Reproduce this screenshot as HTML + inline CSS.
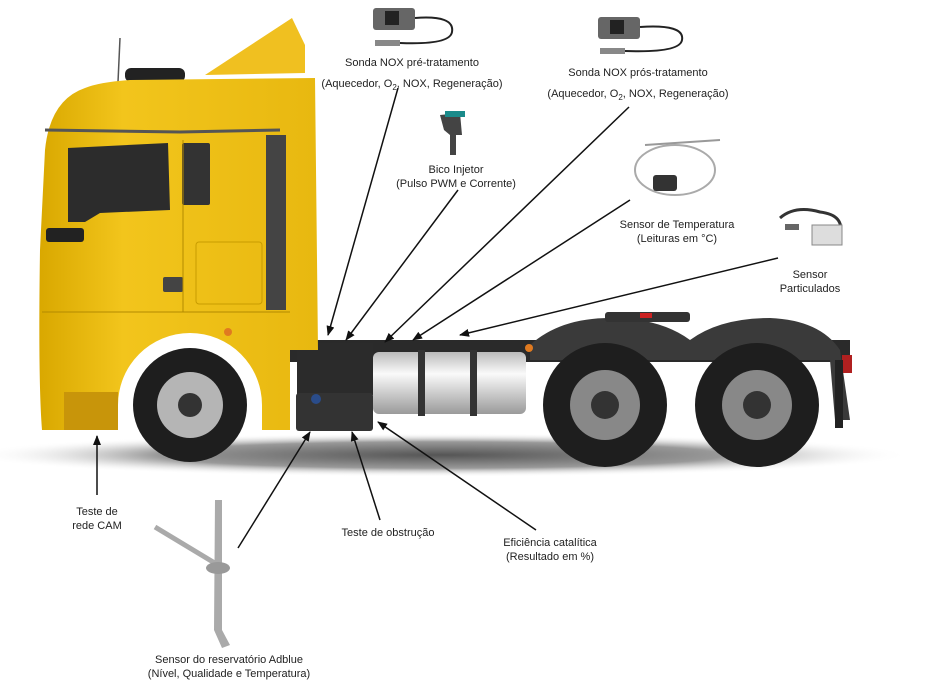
<!DOCTYPE html>
<html><head><meta charset="utf-8"><style>
html,body{margin:0;padding:0;background:#fff;}
svg{display:block;}
text{font-family:"Liberation Sans",Arial,sans-serif;font-size:11px;fill:#222;text-anchor:middle;}
</style></head><body>
<svg width="944" height="684" viewBox="0 0 944 684" xmlns="http://www.w3.org/2000/svg">
<defs>
<marker id="ah" markerWidth="10" markerHeight="8" refX="9" refY="4" orient="auto" markerUnits="userSpaceOnUse">
<path d="M0,0 L10,4 L0,8 Z" fill="#111"/></marker>
<radialGradient id="sh" cx="50%" cy="50%" r="50%"><stop offset="0" stop-color="#555"/><stop offset="0.6" stop-color="#999"/><stop offset="1" stop-color="#fff" stop-opacity="0"/></radialGradient>
<linearGradient id="yl" x1="0" y1="0" x2="1" y2="0"><stop offset="0" stop-color="#d9a800"/><stop offset="0.3" stop-color="#f2c51c"/><stop offset="1" stop-color="#e8b810"/></linearGradient>
<linearGradient id="sv" x1="0" y1="0" x2="0" y2="1"><stop offset="0" stop-color="#bbb"/><stop offset="0.35" stop-color="#fafafa"/><stop offset="1" stop-color="#9a9a9a"/></linearGradient>
</defs>
<ellipse cx="440" cy="455" rx="470" ry="22" fill="url(#sh)"/>
<rect x="285" y="340" width="565" height="22" fill="#2a2a2a"/>
<path d="M530,345 Q560,318 610,318 Q660,318 690,340 Q720,318 770,318 Q820,320 840,350 L850,420 L835,420 L830,360 L530,360 Z" fill="#3a3a3a"/>
<rect x="605" y="312" width="85" height="10" rx="3" fill="#333"/>
<rect x="640" y="313" width="12" height="5" fill="#c22"/>
<rect x="842" y="355" width="10" height="18" fill="#b02020"/>
<rect x="835" y="360" width="8" height="68" fill="#222"/>
<circle cx="605" cy="405" r="62" fill="#1e1e1e"/>
<circle cx="605" cy="405" r="35" fill="#888"/>
<circle cx="605" cy="405" r="14" fill="#333"/>
<circle cx="757" cy="405" r="62" fill="#1e1e1e"/>
<circle cx="757" cy="405" r="35" fill="#888"/>
<circle cx="757" cy="405" r="14" fill="#333"/>
<rect x="297" y="343" width="76" height="52" fill="#2b2b2b"/>
<rect x="296" y="393" width="77" height="38" rx="3" fill="#333"/>
<circle cx="316" cy="399" r="5" fill="#2a4c8a"/>
<rect x="373" y="352" width="153" height="62" rx="6" fill="url(#sv)"/>
<rect x="418" y="350" width="7" height="66" fill="#333"/>
<rect x="470" y="350" width="7" height="66" fill="#333"/>
<circle cx="529" cy="348" r="4" fill="#e07a20"/>
<path d="M205,75 L292,18 L305,45 L305,73 Z" fill="#f0c020"/>
<rect x="125" y="68" width="60" height="14" rx="6" fill="#222"/>
<line x1="120" y1="38" x2="118" y2="82" stroke="#555" stroke-width="1.5"/>
<path d="M45,150 Q50,100 85,88 Q100,82 130,80 L315,78 L318,350 L290,350 L290,430 L262,430 L262,405 A72 72 0 0 0 118,405 L118,430 L42,430 Q38,380 40,250 Z" fill="url(#yl)"/>
<path d="M68,148 L168,143 L170,210 L100,213 L85,222 L68,222 Z" fill="#2c2c2c"/>
<rect x="182" y="143" width="28" height="62" rx="2" fill="#333"/>
<rect x="266" y="135" width="20" height="175" fill="#444"/>
<path d="M45,130 L180,132 L280,130" stroke="#555" stroke-width="3" fill="none"/>
<rect x="46" y="228" width="38" height="14" rx="3" fill="#222"/>
<rect x="163" y="277" width="20" height="15" rx="2" fill="#444"/>
<line x1="183" y1="140" x2="183" y2="312" stroke="#b38a00" stroke-width="1"/>
<line x1="42" y1="312" x2="290" y2="312" stroke="#b38a00" stroke-width="1"/>
<rect x="196" y="242" width="66" height="62" rx="3" fill="none" stroke="#c89c00"/>
<rect x="64" y="392" width="54" height="38" fill="#c8950a"/>
<circle cx="228" cy="332" r="4" fill="#e07a20"/>
<circle cx="190" cy="405" r="57" fill="#1e1e1e"/>
<circle cx="190" cy="405" r="33" fill="#b5b5b5"/>
<circle cx="190" cy="405" r="12" fill="#333"/>
<g>
<rect x="373" y="8" width="42" height="22" rx="3" fill="#666"/><rect x="385" y="11" width="14" height="14" fill="#222"/>
<path d="M415,18 Q455,15 452,32 Q450,45 400,43" stroke="#222" stroke-width="2" fill="none"/>
<rect x="375" y="40" width="25" height="6" fill="#888"/>
<rect x="598" y="17" width="42" height="22" rx="3" fill="#666"/><rect x="610" y="20" width="14" height="14" fill="#222"/>
<path d="M640,27 Q685,24 682,40 Q680,53 625,51" stroke="#222" stroke-width="2" fill="none"/>
<rect x="600" y="48" width="25" height="6" fill="#888"/>
<path d="M440,115 L460,113 L462,135 L456,135 L456,155 L450,155 L450,135 L444,130 Z" fill="#444"/><rect x="445" y="111" width="20" height="6" fill="#1a8a8a"/>
<ellipse cx="675" cy="170" rx="40" ry="25" fill="none" stroke="#aaa" stroke-width="2"/>
<rect x="653" y="175" width="24" height="16" rx="3" fill="#333"/>
<path d="M645,145 L720,140" stroke="#999" stroke-width="2"/>
<path d="M780,218 Q795,205 820,212 Q845,215 840,235" stroke="#333" stroke-width="3" fill="none"/>
<rect x="812" y="225" width="30" height="20" fill="#ddd" stroke="#888"/>
<rect x="785" y="224" width="14" height="6" fill="#666"/>
<path d="M215,500 L222,500 L222,630 L230,645 L222,648 L214,630 Z" fill="#aaa"/>
<line x1="155" y1="527" x2="218" y2="565" stroke="#aaa" stroke-width="5"/>
<ellipse cx="218" cy="568" rx="12" ry="6" fill="#999"/>
</g>
<g stroke="#111" stroke-width="1.5" fill="none" marker-end="url(#ah)">
<line x1="398" y1="88" x2="328" y2="335"/>
<line x1="458" y1="190" x2="346" y2="340"/>
<line x1="629" y1="107" x2="385" y2="342"/>
<line x1="630" y1="200" x2="413" y2="340"/>
<line x1="778" y1="258" x2="460" y2="335"/>
<line x1="97" y1="495" x2="97" y2="436"/>
<line x1="238" y1="548" x2="310" y2="432"/>
<line x1="380" y1="520" x2="352" y2="432"/>
<line x1="536" y1="530" x2="378" y2="422"/>
</g>
<text x="412" y="66">Sonda NOX pré-tratamento</text>
<text x="412" y="87">(Aquecedor, O<tspan font-size="8" dy="3">2</tspan><tspan dy="-3">, NOX, Regeneração)</tspan></text>
<text x="638" y="76">Sonda NOX prós-tratamento</text>
<text x="638" y="97">(Aquecedor, O<tspan font-size="8" dy="3">2</tspan><tspan dy="-3">, NOX, Regeneração)</tspan></text>
<text x="456" y="173">Bico Injetor</text>
<text x="456" y="187">(Pulso PWM e Corrente)</text>
<text x="677" y="228">Sensor de Temperatura</text>
<text x="677" y="242">(Leituras em °C)</text>
<text x="810" y="278">Sensor</text>
<text x="810" y="292">Particulados</text>
<text x="97" y="515">Teste de</text>
<text x="97" y="529">rede CAM</text>
<text x="388" y="536">Teste de obstrução</text>
<text x="550" y="546">Eficiência catalítica</text>
<text x="550" y="560">(Resultado em %)</text>
<text x="229" y="663">Sensor do reservatório Adblue</text>
<text x="229" y="677">(Nível, Qualidade e Temperatura)</text>
</svg>
</body></html>
